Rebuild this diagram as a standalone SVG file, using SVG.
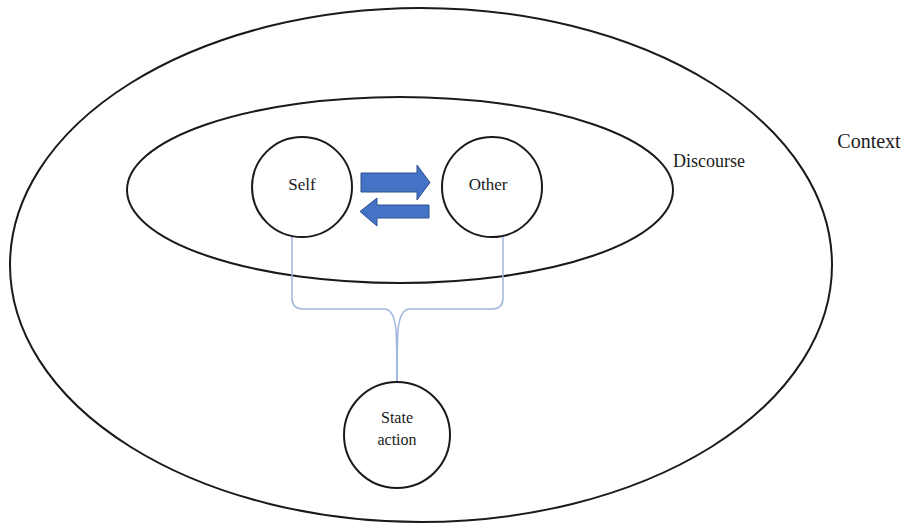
<svg xmlns="http://www.w3.org/2000/svg" width="905" height="527" viewBox="0 0 905 527">
<style>
.ring{fill:none;stroke:#1a1a1a;stroke-width:2}
.node{fill:#fff;stroke:#1a1a1a;stroke-width:2}
.lbl{font-family:"Liberation Serif",serif;fill:#1a1a1a;text-anchor:middle}
.brace{fill:none;stroke:#9fb6de;stroke-width:1.5}
.arr{fill:#4472c4;stroke:#2f528f;stroke-width:1}
</style>
<rect width="905" height="527" fill="#fff"/>
<g id="context">
<ellipse class="ring" cx="421" cy="265" rx="411" ry="257"/>
<text class="lbl" x="869" y="148" font-size="20">Context</text>
</g>
<g id="discourse">
<ellipse class="ring" cx="400" cy="190" rx="273" ry="93"/>
<text class="lbl" x="709" y="167" font-size="18">Discourse</text>
</g>
<g id="connectors">
<path class="brace" d="M292,237 V298 Q292,309 303,309 H384 Q394,309 396,330 Q397,345 397,382"/>
<path class="brace" d="M503,237 V298 Q503,309 492,309 H410 Q400,309 398,330 Q397,345 397,382"/>
<path class="arr" d="M361,173 H417 V165 L430,182.5 L417,200 V192 H361 Z"/>
<path class="arr" d="M429,205 H377 V198 L360,211.5 L377,226 V218 H429 Z"/>
</g>
<g id="self">
<circle class="node" cx="302" cy="187" r="50"/>
<text class="lbl" x="302" y="190" font-size="17">Self</text>
</g>
<g id="other">
<circle class="node" cx="492" cy="187" r="50"/>
<text class="lbl" x="488" y="190" font-size="17">Other</text>
</g>
<g id="state-action">
<circle class="node" cx="397" cy="435" r="53"/>
<text class="lbl" x="397" y="423" font-size="16">State</text>
<text class="lbl" x="397" y="445" font-size="16">action</text>
</g>
</svg>
